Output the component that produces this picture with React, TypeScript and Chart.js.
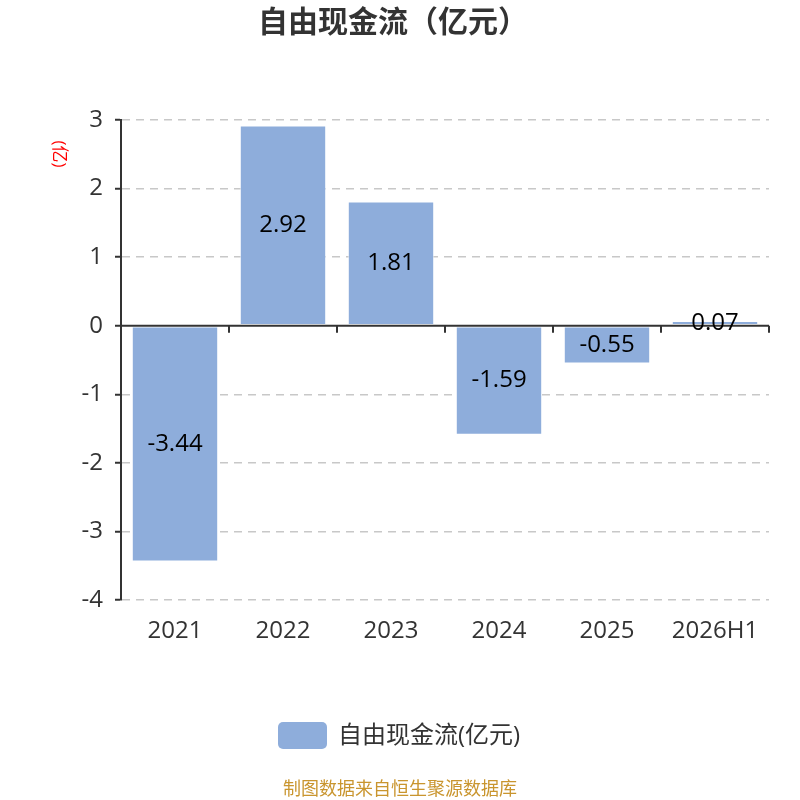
import React, { useEffect, useRef } from "react"
import { Chart, registerables } from "chart.js"

Chart.register(...registerables)

const categories = ["2021", "2022", "2023", "2024", "2025", "2026H1"]
const cashFlow = [-3.44, 2.92, 1.81, -1.59, -0.55, 0.07]
const yTicks = [3, 2, 1, 0, -1, -2, -3, -4]

const seriesName = "自由现金流(亿元)"
const titleText = "自由现金流（亿元）"
const unitText = "(亿)"
const footerText = "制图数据来自恒生聚源数据库"

const FONT = "'Open Sans', 'Noto Sans CJK SC', sans-serif"
const BAR_COLOR = "#8eaddb"

// text, legend, zero axis and value labels
const decorations = {
    id: "decorations",
    afterDatasetsDraw(chart: any) {
        const { ctx, chartArea, scales } = chart
        const y = scales.y
        const zeroY = y.getPixelForValue(0)

        ctx.save()
        // zero line with ticks between categories
        ctx.strokeStyle = "#333"
        ctx.lineWidth = 2
        ctx.beginPath()
        ctx.moveTo(chartArea.left, zeroY)
        ctx.lineTo(chartArea.right, zeroY)
        ctx.stroke()
        const step = (chartArea.right - chartArea.left) / categories.length
        for (let i = 1; i <= categories.length; i++) {
            const px = Math.round(chartArea.left + step * i)
            ctx.beginPath()
            ctx.moveTo(px, zeroY)
            ctx.lineTo(px, zeroY + 7)
            ctx.stroke()
        }

        // value labels
        const meta = chart.getDatasetMeta(0)
        ctx.fillStyle = "#000"
        ctx.font = `24px ${FONT}`
        ctx.textAlign = "center"
        ctx.textBaseline = "middle"
        meta.data.forEach((bar: any, i: number) => {
            const cy = (bar.y + bar.base) / 2
            ctx.fillText(cashFlow[i].toFixed(2), bar.x, cy)
        })

        // title
        ctx.fillStyle = "#333"
        ctx.font = `bold 30px ${FONT}`
        ctx.fillText(titleText, 393, 23)

        // unit label, rotated clockwise
        ctx.save()
        ctx.translate(59, 154)
        ctx.rotate(Math.PI / 2)
        ctx.fillStyle = "#ff0000"
        ctx.font = `17px ${FONT}`
        ctx.fillText(unitText, 0, 0)
        ctx.restore()

        // legend
        ctx.fillStyle = BAR_COLOR
        ctx.beginPath()
        ctx.roundRect(278, 722, 49, 27, 5)
        ctx.fill()
        ctx.fillStyle = "#333"
        ctx.font = `24px ${FONT}`
        ctx.textAlign = "left"
        ctx.fillText(seriesName, 338, 736)

        // footer
        ctx.fillStyle = "#c9952e"
        ctx.font = `18px ${FONT}`
        ctx.textAlign = "center"
        ctx.fillText(footerText, 400, 790)
        ctx.restore()
    },
}

export default function App() {
    const canvasRef = useRef<HTMLCanvasElement>(null)
    const chartRef = useRef<Chart>()

    useEffect(() => {
        chartRef.current?.destroy()
        chartRef.current = new Chart(canvasRef.current as HTMLCanvasElement, {
            type: "bar",
            data: {
                labels: categories,
                datasets: [
                    {
                        label: seriesName,
                        data: cashFlow,
                        backgroundColor: BAR_COLOR,
                        borderColor: "rgba(255,255,255,0.6)",
                        borderWidth: 1,
                        borderSkipped: false,
                        barPercentage: 0.8,
                        categoryPercentage: 1,
                    },
                ],
            },
            options: {
                animation: false,
                responsive: false,
                events: [],
                layout: { padding: { top: 120, right: 31, left: 0, bottom: 0 } },
                plugins: {
                    legend: { display: false },
                    title: { display: false },
                    tooltip: { enabled: false },
                },
                scales: {
                    x: {
                        grid: { display: false },
                        border: { display: false },
                        ticks: {
                            color: "#333",
                            font: { size: 24, family: FONT },
                            padding: 9,
                            maxRotation: 0,
                        },
                        afterFit: (scale: any) => {
                            scale.height = 200
                        },
                    },
                    y: {
                        min: -4,
                        max: 3,
                        afterBuildTicks: (scale: any) => {
                            scale.ticks = yTicks.map((v) => ({ value: v }))
                        },
                        grid: {
                            color: (c: any) => (c.tick && c.tick.value === 0 ? "rgba(0,0,0,0)" : "#c8c8c8"),
                            lineWidth: 1.5,
                            tickColor: "#333",
                            tickLength: 6,
                            tickWidth: 2,
                        },
                        border: { display: true, color: "#333", width: 2, dash: [8, 6] },
                        ticks: {
                            color: "#333",
                            font: { size: 24, family: FONT },
                            padding: 12,
                        },
                        afterFit: (scale: any) => {
                            scale.width = 121
                        },
                    },
                },
            },
            plugins: [decorations],
        })

        return () => {
            chartRef.current?.destroy()
        }
    }, [])

    return (
        <div style={{ position: "fixed", left: 0, top: 0, width: 800, height: 800, background: "#fff" }}>
            <canvas ref={canvasRef} width={800} height={800} style={{ width: 800, height: 800 }}></canvas>
        </div>
    )
}
